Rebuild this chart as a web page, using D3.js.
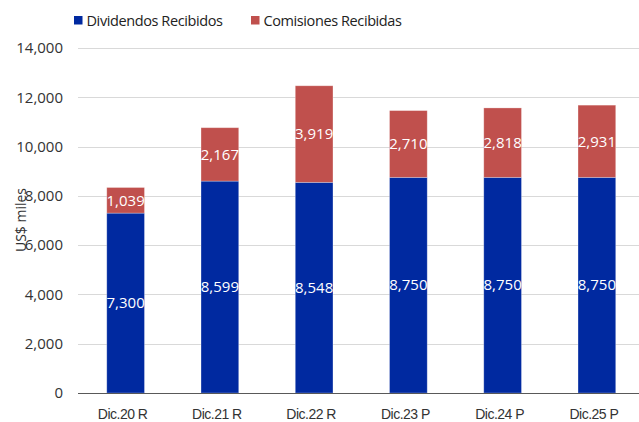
<!DOCTYPE html>
<html><head><meta charset="utf-8">
<script src="https://cdn.jsdelivr.net/npm/d3@7"></script>
<style>body{margin:0;background:#fff}svg{display:block;font-family:"Open Sans","Noto Sans",sans-serif}</style>
</head><body><svg id="c" width="639" height="422"></svg>
<script>
const categories = ["Dic.20 R","Dic.21 R","Dic.22 R","Dic.23 P","Dic.24 P","Dic.25 P"];
const dividendos = [7300, 8599, 8548, 8750, 8750, 8750];
const comisiones = [1039, 2167, 3919, 2710, 2818, 2931];
const seriesNames = ["Dividendos Recibidos","Comisiones Recibidas"];
const colors = ["#0029A0","#C0504D"];
const yTicks = [0,2000,4000,6000,8000,10000,12000,14000];

const svg = d3.select("#c");
const x = d3.scaleBand().domain(categories).range([78.5, 644]).paddingInner(0.6).paddingOuter(0.3);
const y = d3.scaleLinear().domain([0,14000]).range([393,48]);
const fmt = d3.format(",");

// grid
svg.append("g").selectAll("line").data(yTicks.slice(1)).join("line")
  .attr("x1",78).attr("x2",639).attr("y1",d=>Math.round(y(d))+0.5).attr("y2",d=>Math.round(y(d))+0.5)
  .attr("stroke","#d9d9d9").attr("stroke-width",1);

// y tick labels
const yAxis = d3.axisLeft(y).tickValues(yTicks).tickFormat(fmt).tickSize(0).tickPadding(0);
const ya = svg.append("g").attr("transform","translate(63,0)").call(yAxis);
ya.select(".domain").remove();
ya.selectAll("text").attr("font-size",15).attr("fill","#333").attr("font-family","'Open Sans',sans-serif");

// stacked bars
const stackData = categories.map((c,i)=>({cat:c, d:dividendos[i], k:comisiones[i]}));
const stack = d3.stack().keys(["d","k"])(stackData);
stack.forEach((layer,li)=>{
  const g = svg.append("g");
  g.selectAll("rect").data(layer).join("rect")
    .attr("x",d=>x(d.data.cat)).attr("width",x.bandwidth())
    .attr("y",d=>y(d[1])).attr("height",d=>y(d[0])-y(d[1]))
    .attr("fill",colors[li]).attr("stroke","#fff").attr("stroke-opacity",0.35).attr("stroke-width",0.8);
  g.selectAll("text").data(layer).join("text")
    .attr("x",d=>x(d.data.cat)+x.bandwidth()/2)
    .attr("y",d=>(y(d[0])+y(d[1]))/2)
    .attr("dy","0.35em").attr("text-anchor","middle")
    .attr("font-size",15).attr("fill","#fff")
    .text(d=>fmt(d[1]-d[0]));
});

// x axis
svg.append("line").attr("x1",78).attr("x2",639).attr("y1",393.5).attr("y2",393.5).attr("stroke","#595959").attr("stroke-width",1);
const xAxis = d3.axisBottom(x).tickSize(0).tickPadding(0);
const xa = svg.append("g").attr("transform","translate(-3,393)").call(xAxis);
xa.select(".domain").remove();
xa.selectAll("text").attr("y",21).attr("dy","0.35em").attr("font-size",14).attr("letter-spacing","-0.5px").attr("fill","#333");

// y title
svg.append("text").attr("transform","translate(21,220) rotate(-90)")
  .attr("text-anchor","middle").attr("dy","0.35em").attr("font-size",14).attr("fill","#333").text("US$ miles");

// legend
const legX = [74, 251];
seriesNames.forEach((n,i)=>{
  svg.append("rect").attr("x",legX[i]).attr("y",16).attr("width",8.5).attr("height",8.5).attr("fill",colors[i]);
  svg.append("text").attr("x",legX[i]+12.5).attr("y",20.5).attr("dy","0.35em").attr("font-size",14.5).attr("letter-spacing","-0.4px").attr("fill","#222").text(n);
});
</script></body></html>
